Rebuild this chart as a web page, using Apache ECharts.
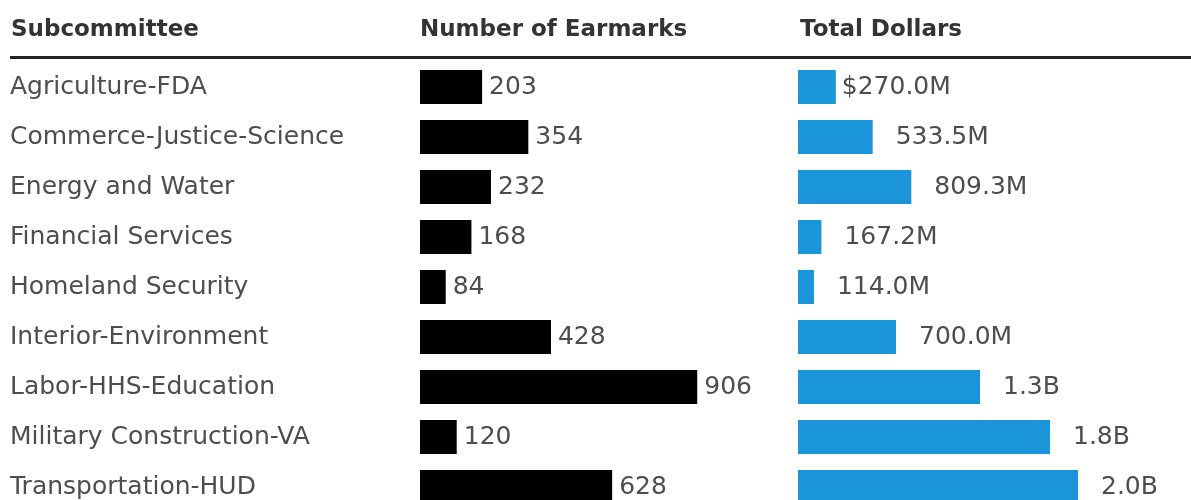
<!DOCTYPE html>
<html>
<head>
<meta charset="utf-8">
<script src="https://cdn.jsdelivr.net/npm/echarts@6/dist/echarts.min.js"></script>
<style>
  html, body { margin: 0; padding: 0; background: #ffffff; overflow: hidden; width: 1191px; height: 500px; }
  #chart { width: 1191px; height: 530px; }
</style>
</head>
<body>
<div id="chart"></div>
<script>
// ---- Data ----
const categories = [
  'Agriculture-FDA',
  'Commerce-Justice-Science',
  'Energy and Water',
  'Financial Services',
  'Homeland Security',
  'Interior-Environment',
  'Labor-HHS-Education',
  'Military Construction-VA',
  'Transportation-HUD'
];
const earmarks = [203, 354, 232, 168, 84, 428, 906, 120, 628];
const dollarsM = [270.0, 533.5, 809.3, 167.2, 114.0, 700.0, 1300, 1800, 2000];
const headers = ['Subcommittee', 'Number of Earmarks', 'Total Dollars'];

// ---- Styles ----
const FONT = 'DejaVu Sans';
const BODY_COLOR = '#4d4d4d';
const HEAD_COLOR = '#333333';
const BLUE = '#1b95d9';

function fmtDollars(v, i) {
  const s = v >= 1000 ? (v / 1000).toFixed(1) + 'B' : v.toFixed(1) + 'M';
  return i === 0 ? '$' + s : s;
}

const chart = echarts.init(document.getElementById('chart'), null, { renderer: 'canvas' });

const option = {
  backgroundColor: '#ffffff',
  animation: false,
  grid: [
    { left: 420, top: 62, width: 306, height: 450 },
    { left: 798, top: 62, width: 280, height: 450 }
  ],
  xAxis: [
    { gridIndex: 0, type: 'value', min: 0, max: 1000, show: false },
    { gridIndex: 1, type: 'value', min: 0, max: 2000, show: false }
  ],
  yAxis: [
    {
      gridIndex: 0, type: 'category', data: categories, inverse: true,
      axisLine: { show: false }, axisTick: { show: false }, splitLine: { show: false },
      axisLabel: {
        margin: 410, align: 'left', fontFamily: FONT, fontSize: 25,
        color: BODY_COLOR, padding: [0, 0, 7, 0]
      }
    },
    {
      gridIndex: 1, type: 'category', data: categories, inverse: true, show: false
    }
  ],
  series: [
    {
      type: 'bar', xAxisIndex: 0, yAxisIndex: 0, data: earmarks,
      barWidth: 34,
      itemStyle: { color: '#000000' },
      label: {
        show: true, position: 'right', distance: 7,
        fontFamily: FONT, fontSize: 25, color: BODY_COLOR
      }
    },
    {
      type: 'bar', xAxisIndex: 1, yAxisIndex: 1,
      data: dollarsM.map((v, i) => i === 0
        ? { value: v, label: { distance: 6 } }
        : v),
      barWidth: 34,
      itemStyle: { color: BLUE },
      label: {
        show: true, position: 'right', distance: 23,
        fontFamily: FONT, fontSize: 25, color: BODY_COLOR,
        formatter: p => fmtDollars(p.value, p.dataIndex)
      }
    }
  ],
  graphic: [
    {
      type: 'text', left: 11, top: 19,
      style: { text: headers[0], fontFamily: FONT, fontWeight: 'bold', fontSize: 23, fill: HEAD_COLOR }
    },
    {
      type: 'text', left: 420, top: 19,
      style: { text: headers[1], fontFamily: FONT, fontWeight: 'bold', fontSize: 23, fill: HEAD_COLOR }
    },
    {
      type: 'text', left: 800, top: 19,
      style: { text: headers[2], fontFamily: FONT, fontWeight: 'bold', fontSize: 23, fill: HEAD_COLOR }
    },
    {
      type: 'line',
      shape: { x1: 10, y1: 57.5, x2: 1191, y2: 57.5 },
      style: { stroke: '#222222', lineWidth: 3 }
    }
  ]
};

chart.setOption(option);
</script>
</body>
</html>
